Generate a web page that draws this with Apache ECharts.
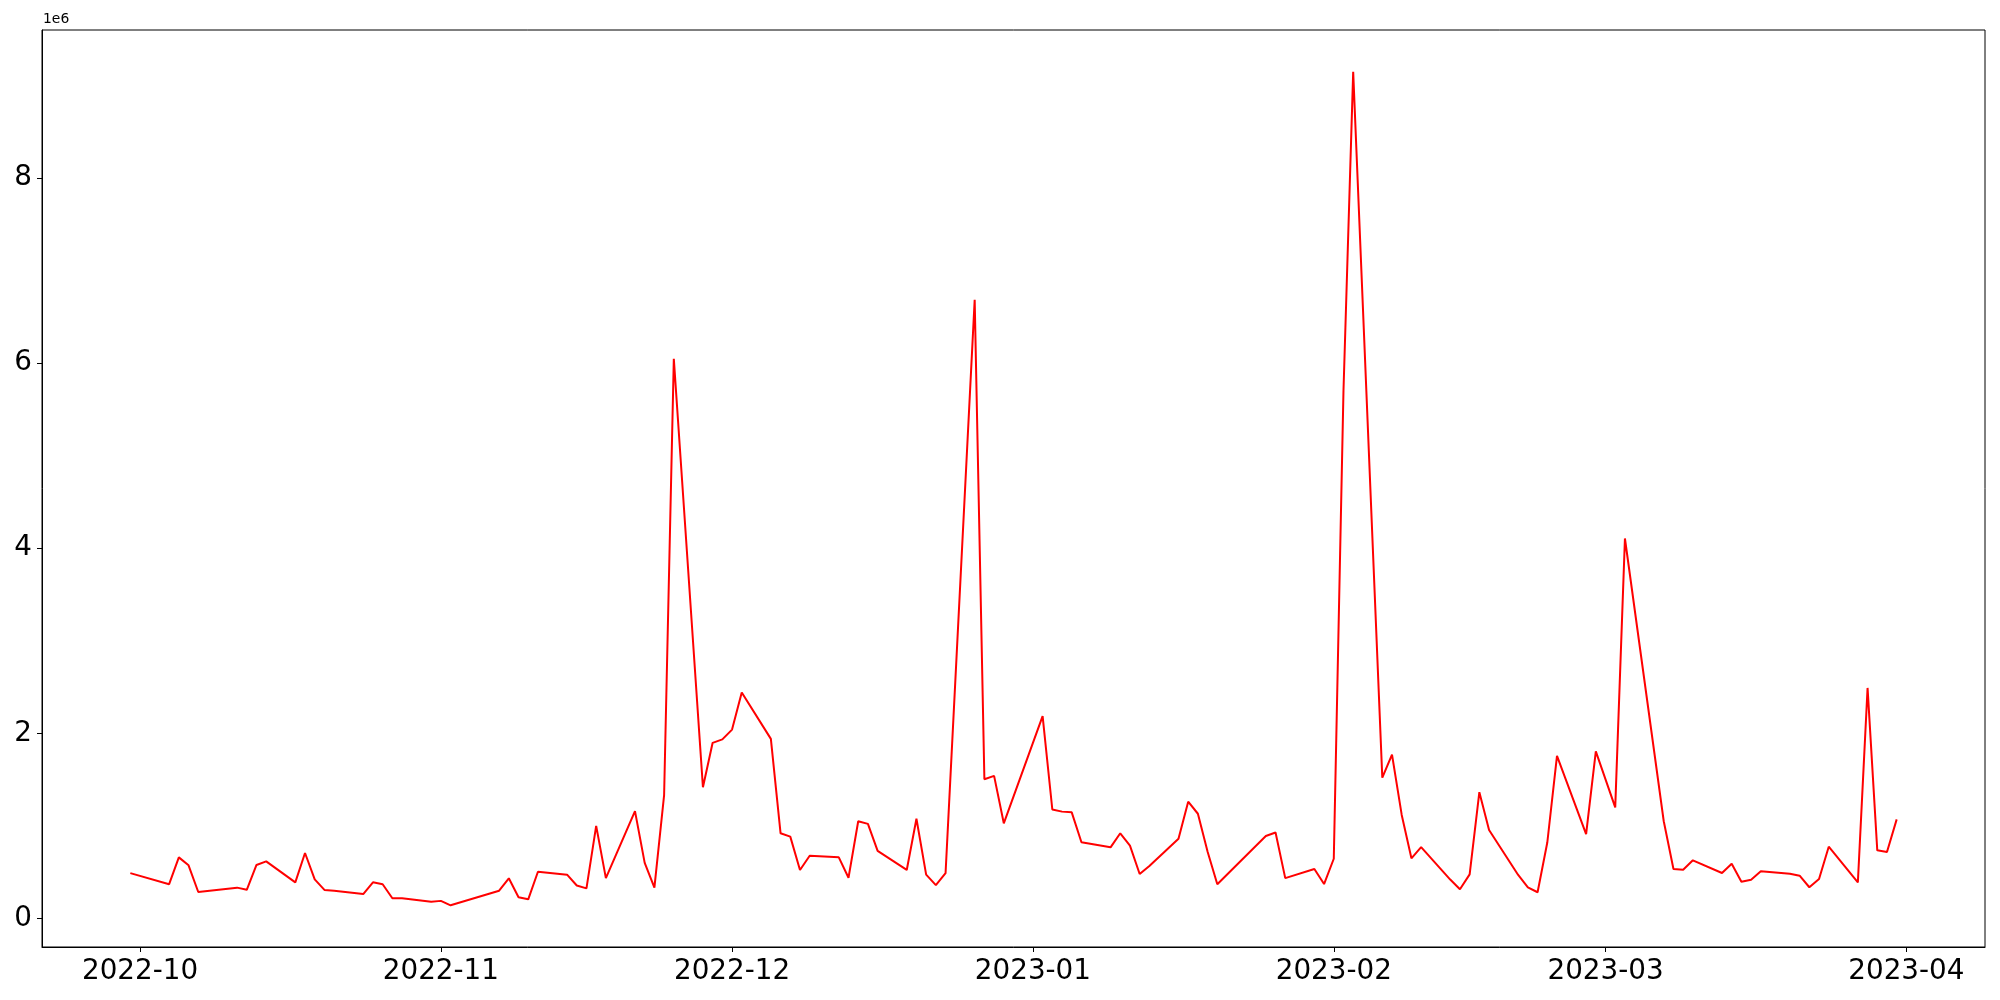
<!DOCTYPE html>
<html>
<head>
<meta charset="utf-8">
<script src="https://cdn.jsdelivr.net/npm/echarts@6/dist/echarts.min.js"></script>
<style>
  html, body { margin: 0; padding: 0; background: #fff; }
  #chart { width: 2000px; height: 1000px; }
</style>
</head>
<body>
<div id="chart"></div>
<script>
// ---- data (values in units of 1e6) ----
const dates = [
  '2022-09-30','2022-10-04','2022-10-05','2022-10-06','2022-10-07','2022-10-11','2022-10-12','2022-10-13','2022-10-14',
  '2022-10-17','2022-10-18','2022-10-19','2022-10-20','2022-10-21','2022-10-24','2022-10-25','2022-10-26','2022-10-27','2022-10-28',
  '2022-10-31','2022-11-01','2022-11-02','2022-11-07','2022-11-08','2022-11-09','2022-11-10','2022-11-11',
  '2022-11-14','2022-11-15','2022-11-16','2022-11-17','2022-11-18','2022-11-21','2022-11-22','2022-11-23','2022-11-24','2022-11-25',
  '2022-11-28','2022-11-29','2022-11-30','2022-12-01','2022-12-02','2022-12-05','2022-12-06','2022-12-07','2022-12-08','2022-12-09',
  '2022-12-12','2022-12-13','2022-12-14','2022-12-15','2022-12-16','2022-12-19','2022-12-20','2022-12-21','2022-12-22','2022-12-23',
  '2022-12-26','2022-12-27','2022-12-28','2022-12-29','2023-01-02','2023-01-03','2023-01-04','2023-01-05','2023-01-06',
  '2023-01-09','2023-01-10','2023-01-11','2023-01-12','2023-01-13','2023-01-16','2023-01-17','2023-01-18','2023-01-19','2023-01-20',
  '2023-01-25','2023-01-26','2023-01-27','2023-01-30','2023-01-31','2023-02-01','2023-02-02','2023-02-03',
  '2023-02-06','2023-02-07','2023-02-08','2023-02-09','2023-02-10','2023-02-13','2023-02-14','2023-02-15','2023-02-16','2023-02-17',
  '2023-02-20','2023-02-21','2023-02-22','2023-02-23','2023-02-24','2023-02-27','2023-02-28','2023-03-02','2023-03-03',
  '2023-03-07','2023-03-08','2023-03-09','2023-03-10','2023-03-13','2023-03-14','2023-03-15','2023-03-16','2023-03-17',
  '2023-03-20','2023-03-21','2023-03-22','2023-03-23','2023-03-24','2023-03-27','2023-03-28','2023-03-29','2023-03-30','2023-03-31'
];
const valuesMillions = [
  0.49,0.37,0.66,0.574,0.286,0.333,0.31,0.578,0.617,
  0.39,0.707,0.423,0.308,0.30,0.264,0.39,0.37,0.218,0.218,
  0.18,0.19,0.142,0.30,0.434,0.229,0.207,0.505,
  0.473,0.356,0.325,1.0,0.436,1.16,0.60,0.333,1.333,6.046,
  1.417,1.897,1.934,2.04,2.44,1.94,0.92,0.884,0.524,0.678,
  0.66,0.44,1.05,1.022,0.73,0.524,1.077,0.473,0.36,0.49,
  6.683,1.504,1.54,1.028,2.186,1.177,1.154,1.146,0.823,
  0.768,0.92,0.786,0.48,0.567,0.862,1.261,1.131,0.72,0.369,
  0.89,0.928,0.436,0.535,0.372,0.645,5.7,9.146,
  1.52,1.77,1.118,0.65,0.77,0.42,0.315,0.476,1.364,0.956,
  0.47,0.337,0.283,0.82,1.757,0.91,1.805,1.20,4.104,
  1.05,0.535,0.527,0.628,0.491,0.592,0.397,0.419,0.509,
  0.484,0.462,0.337,0.426,0.775,0.39,2.49,0.736,0.718,1.07
];
const xTickLabels = ['2022-10','2022-11','2022-12','2023-01','2023-02','2023-03','2023-04'];
const yTickValues = [0, 2, 4, 6, 8];
const yOffsetText = '1e6';

// ---- helpers ----
const DAY = 86400000;
function dayNum(s) {            // days since epoch (UTC, timezone independent)
  const p = s.split('-').map(Number);
  return Date.UTC(p[0], p[1] - 1, p[2] || 1) / DAY;
}
const xTickDays = xTickLabels.map(dayNum);
const seriesData = dates.map((d, i) => [dayNum(d), valuesMillions[i]]);

const t0 = dayNum(dates[0]), t1 = dayNum(dates[dates.length - 1]);
const xPad = 0.05 * (t1 - t0);
const vMin = Math.min(...valuesMillions), vMax = Math.max(...valuesMillions);
const yPad = 0.05 * (vMax - vMin);

const FONT = 'DejaVu Sans';

const chart = echarts.init(document.getElementById('chart'), null, { renderer: 'canvas' });
chart.setOption({
  animation: false,
  backgroundColor: '#ffffff',
  grid: {
    left: 42, right: 15, top: 30, bottom: 53,
    show: true, borderColor: '#000', borderWidth: 1, backgroundColor: 'transparent'
  },
  xAxis: {
    type: 'value',
    min: t0 - xPad,
    max: t1 + xPad,
    splitLine: { show: false },
    axisLine: { show: true, onZero: false, lineStyle: { color: '#000', width: 1 } },
    axisTick: { show: true, length: 5, lineStyle: { color: '#000', width: 1 }, customValues: xTickDays },
    axisLabel: {
      customValues: xTickDays,
      color: '#000', fontFamily: FONT, fontSize: 27.8, margin: 11,
      formatter: function (v) {
        let best = 0, bd = Infinity;
        xTickDays.forEach((t, i) => { const d = Math.abs(t - v); if (d < bd) { bd = d; best = i; } });
        return xTickLabels[best];
      }
    }
  },
  yAxis: {
    type: 'value',
    min: vMin - yPad,
    max: vMax + yPad,
    splitLine: { show: false },
    axisLine: { show: true, onZero: false, lineStyle: { color: '#000', width: 1 } },
    axisTick: { show: true, length: 5, lineStyle: { color: '#000', width: 1 }, customValues: yTickValues },
    axisLabel: {
      customValues: yTickValues,
      color: '#000', fontFamily: FONT, fontSize: 27.8, margin: 10,
      formatter: function (v) { return String(Math.round(v)); }
    }
  },
  graphic: [{
    type: 'text', x: 43, y: 26,
    style: {
      text: yOffsetText, fill: '#000',
      fontFamily: FONT, fontSize: 13.9,
      textAlign: 'left', textVerticalAlign: 'bottom'
    }
  }],
  series: [{
    type: 'line',
    data: seriesData,
    showSymbol: false,
    symbol: 'none',
    lineStyle: { color: '#ff0000', width: 2 },
    itemStyle: { color: '#ff0000' }
  }]
});
</script>
</body>
</html>
